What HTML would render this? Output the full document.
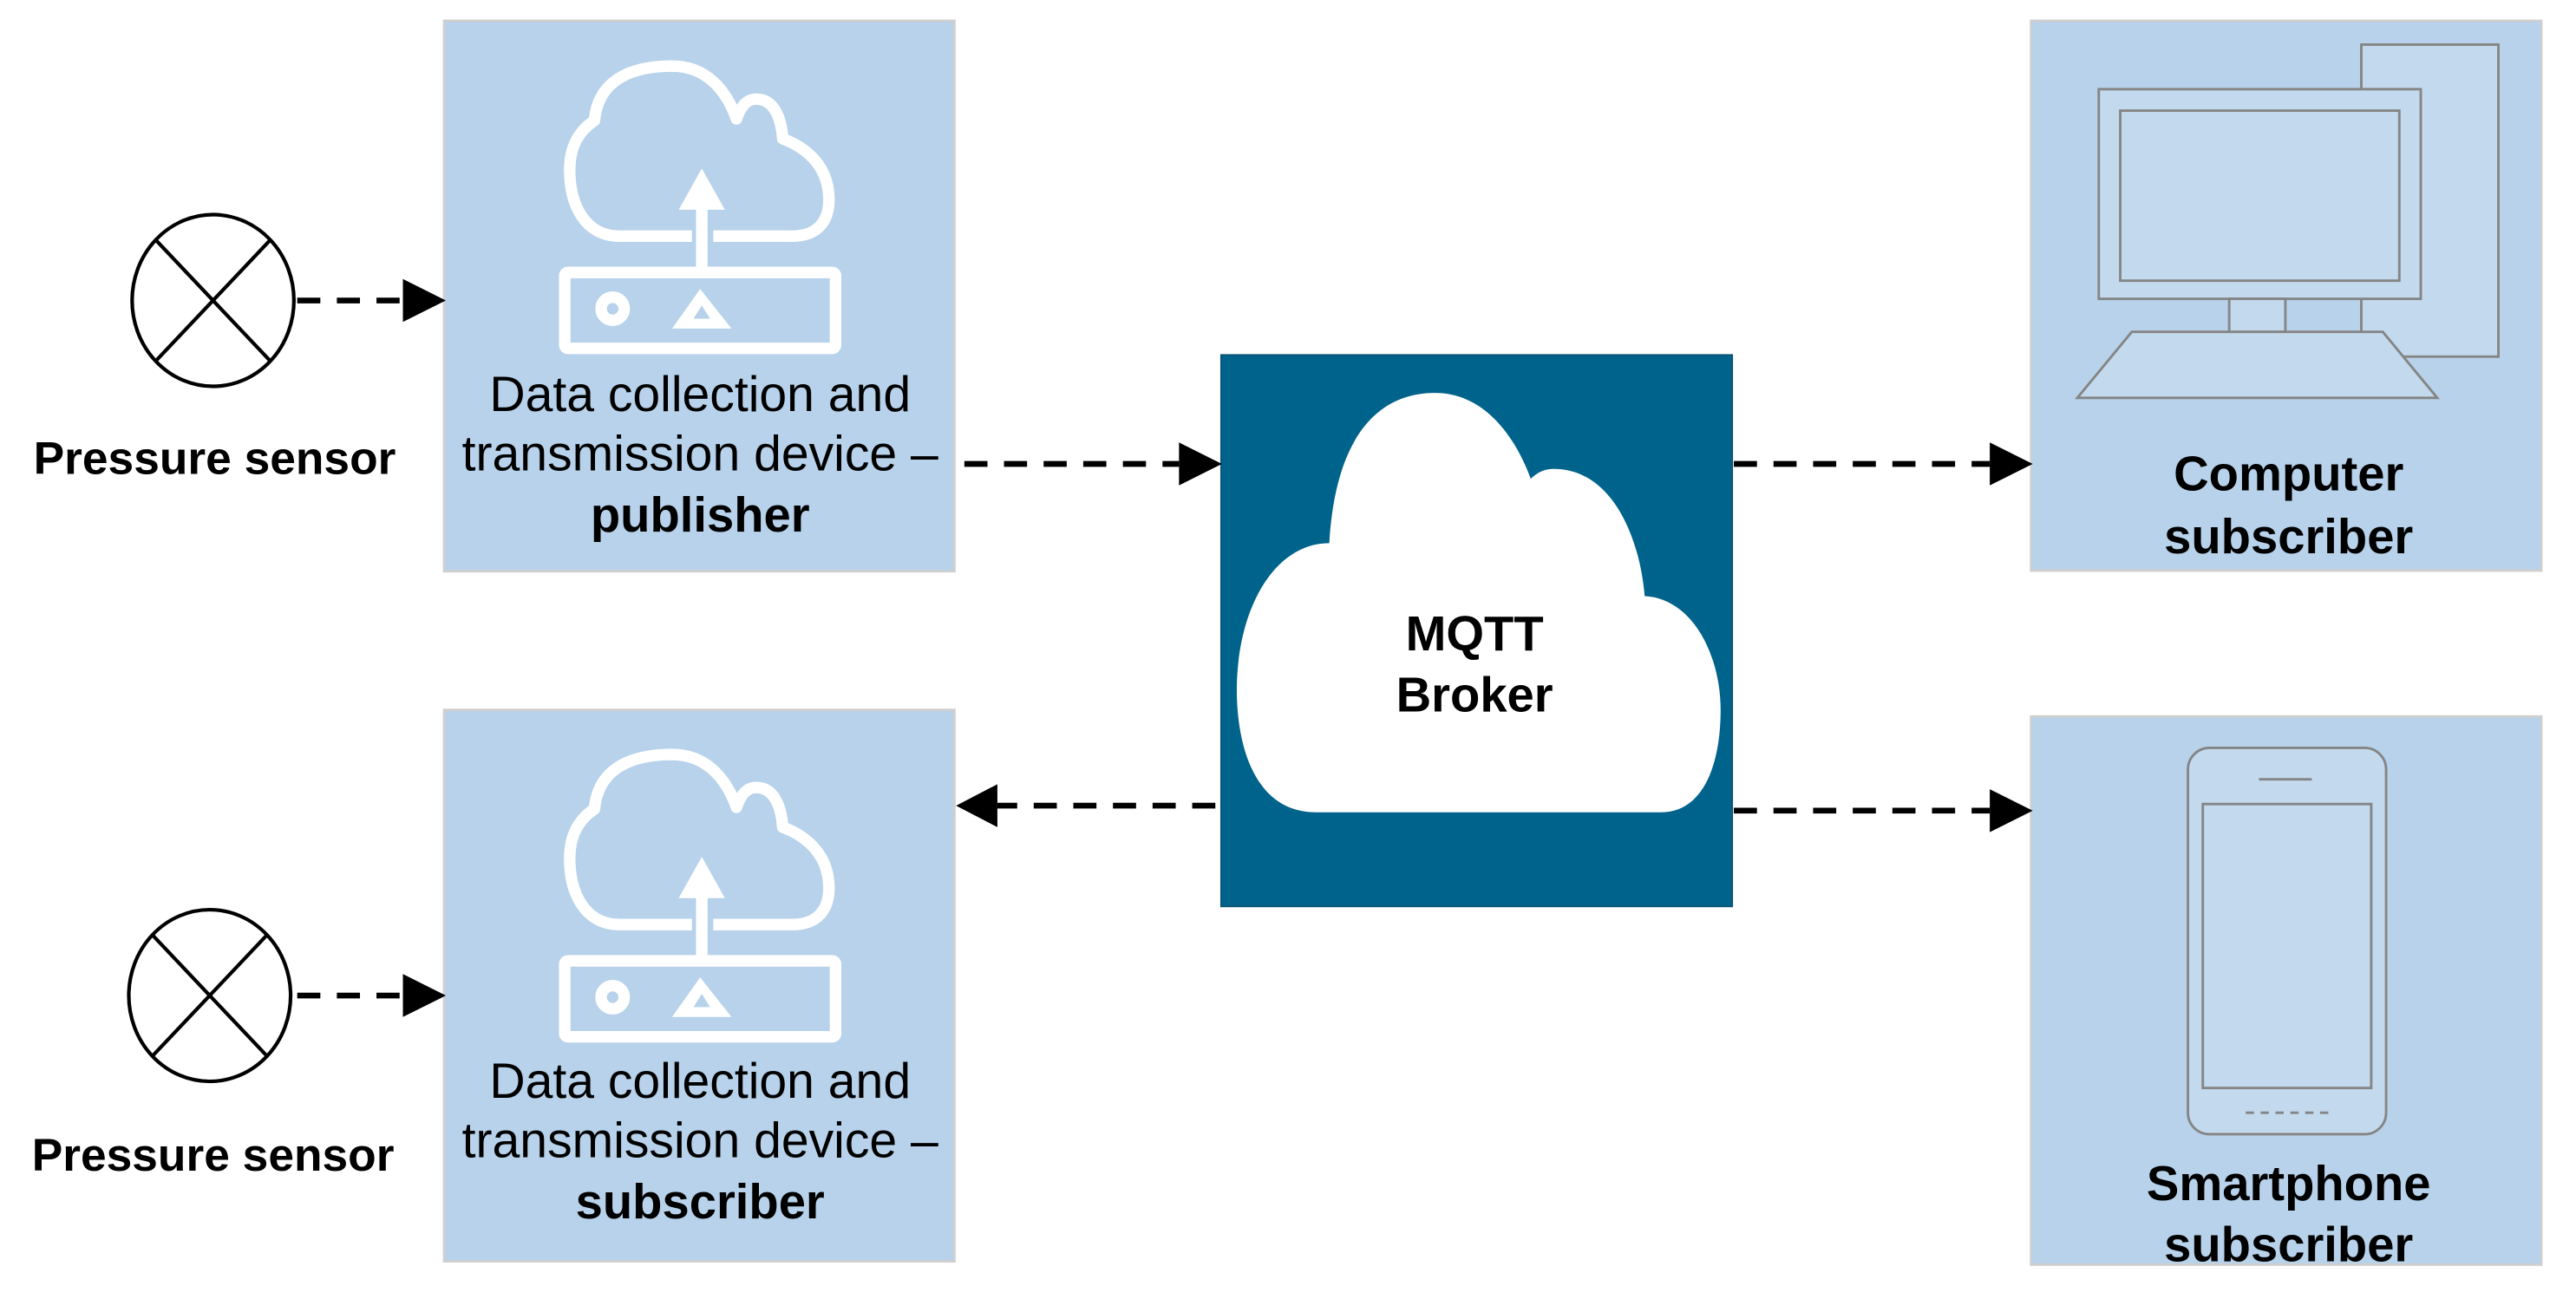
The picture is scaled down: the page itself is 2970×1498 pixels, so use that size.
<!DOCTYPE html>
<html><head><meta charset="utf-8"><style>
html,body{margin:0;padding:0;background:#fff;}
svg{display:block;}
text{font-family:"Liberation Sans",sans-serif;fill:#000;}
</style></head><body>
<svg width="2970" height="1498" viewBox="0 0 1560 786.8" xmlns="http://www.w3.org/2000/svg">
<defs>
<g id="icon" fill="none" stroke="#fff" stroke-width="7" stroke-linejoin="round">
<path d="M419 143 L375 143 C355 143 345 125 345 103 C345 88 351 79 360 73 C362 50 380 40 407 40 C428 40 440 55 446 72 C449 63 453 60 458 60 C468 60 473 70 474 84 C490 90 502 102 502 121 C502 135 494 143 480 143 L432 143"/>
<line x1="425" y1="118" x2="425" y2="162"/>
<rect x="342" y="165" width="164" height="46" rx="2"/>
<circle cx="371" cy="187" r="7"/>
</g>
</defs>

<rect x="269" y="12.6" width="309" height="333.4" fill="#b7d2ea" stroke="#cfcfcf" stroke-width="1.5"/>
<rect x="269" y="430" width="309" height="334" fill="#b7d2ea" stroke="#cfcfcf" stroke-width="1.5"/>
<rect x="1230" y="12.6" width="309" height="333" fill="#b7d2ea" stroke="#cfcfcf" stroke-width="1.5"/>
<rect x="1230" y="434" width="309" height="332" fill="#b7d2ea" stroke="#cfcfcf" stroke-width="1.5"/>
<rect x="739.5" y="215" width="309.5" height="334" fill="#00638b" stroke="#0a5577" stroke-width="1"/>

<path d="M797 492 C759 492 749 450 749 418 C749 370 771 329 805 329 C809 261 837 238 869 238 C901 238 919 268 927 290 C932 285 937 284 941 284 C976 284 993 325 996 361 C1026 363 1042 398 1042 430 C1042 464 1031 492 1006 492 Z" fill="#fff"/>
<text x="893" y="394" font-size="29.5" font-weight="bold" text-anchor="middle">MQTT</text>
<text x="893" y="431" font-size="29.5" font-weight="bold" text-anchor="middle">Broker</text>

<use href="#icon"/>
<path d="M425 102 L411 127 L439 127 Z" fill="#fff"/>
<path d="M424 175 L407 199 L443 199 Z" fill="#fff"/><path d="M425 185 L420 193 L430 193 Z" fill="#b7d2ea"/>
<g transform="translate(0,417)">
<use href="#icon"/>
<path d="M425 102 L411 127 L439 127 Z" fill="#fff"/>
<path d="M424 175 L407 199 L443 199 Z" fill="#fff"/><path d="M425 185 L420 193 L430 193 Z" fill="#b7d2ea"/>
</g>

<g fill="none" stroke="#000" stroke-width="2.2">
<ellipse cx="129" cy="182" rx="49" ry="52"/>
<line x1="94" y1="145" x2="164" y2="219"/><line x1="164" y1="145" x2="94" y2="219"/>
<ellipse cx="127" cy="603" rx="49" ry="52"/>
<line x1="92" y1="566" x2="162" y2="640"/><line x1="162" y1="566" x2="92" y2="640"/>
</g>
<text x="130" y="287" font-size="28" font-weight="bold" text-anchor="middle">Pressure sensor</text>
<text x="129" y="709" font-size="28" font-weight="bold" text-anchor="middle">Pressure sensor</text>

<g font-size="30" text-anchor="middle">
<text x="424" y="249">Data collection and</text>
<text x="424" y="285">transmission device –</text>
<text x="424" y="322" font-weight="bold" font-size="29.5">publisher</text>
<text x="424" y="665">Data collection and</text>
<text x="424" y="701">transmission device –</text>
<text x="424" y="738" font-weight="bold" font-size="29.5">subscriber</text>
<text x="1386" y="297" font-weight="bold" font-size="29.5">Computer</text>
<text x="1386" y="335" font-weight="bold" font-size="29.5">subscriber</text>
<text x="1386" y="727" font-weight="bold" font-size="29.5">Smartphone</text>
<text x="1386" y="764" font-weight="bold" font-size="29.5">subscriber</text>
</g>

<g stroke="#000" stroke-width="3.5" stroke-dasharray="14 10" fill="none">
<line x1="180" y1="182" x2="244" y2="182"/>
<line x1="180" y1="603" x2="244" y2="603"/>
<line x1="584" y1="281" x2="714" y2="281"/>
<line x1="1050" y1="281" x2="1205" y2="281"/>
<line x1="1050" y1="491" x2="1205" y2="491"/>
<line x1="736" y1="488" x2="604" y2="488"/>
</g>
<g fill="#000">
<path d="M244 169 L270 182 L244 195 Z"/>
<path d="M244 590 L270 603 L244 616 Z"/>
<path d="M714 268 L740 281 L714 294 Z"/>
<path d="M1205 268 L1231 281 L1205 294 Z"/>
<path d="M1205 478 L1231 491 L1205 504 Z"/>
<path d="M604 475 L579 488 L604 501 Z"/>
</g>

<g fill="#c3d9ee" stroke="#858585" stroke-width="1.5">
<rect x="1430" y="27" width="83" height="189"/>
<rect x="1271" y="54" width="195" height="127"/>
<rect x="1284" y="67" width="169" height="103"/>
<rect x="1350" y="181" width="34" height="20"/>
<path d="M1291 201 L1443 201 L1476 241 L1258 241 Z"/>
</g>

<g fill="#c3d9ee" stroke="#858585" stroke-width="1.5">
<rect x="1325" y="453" width="120" height="234" rx="13"/>
<rect x="1334" y="487" width="102" height="172"/>
<line x1="1368" y1="472" x2="1400" y2="472"/>
<line x1="1360" y1="674" x2="1412" y2="674" stroke-dasharray="5 4"/>
</g>
</svg>
</body></html>
